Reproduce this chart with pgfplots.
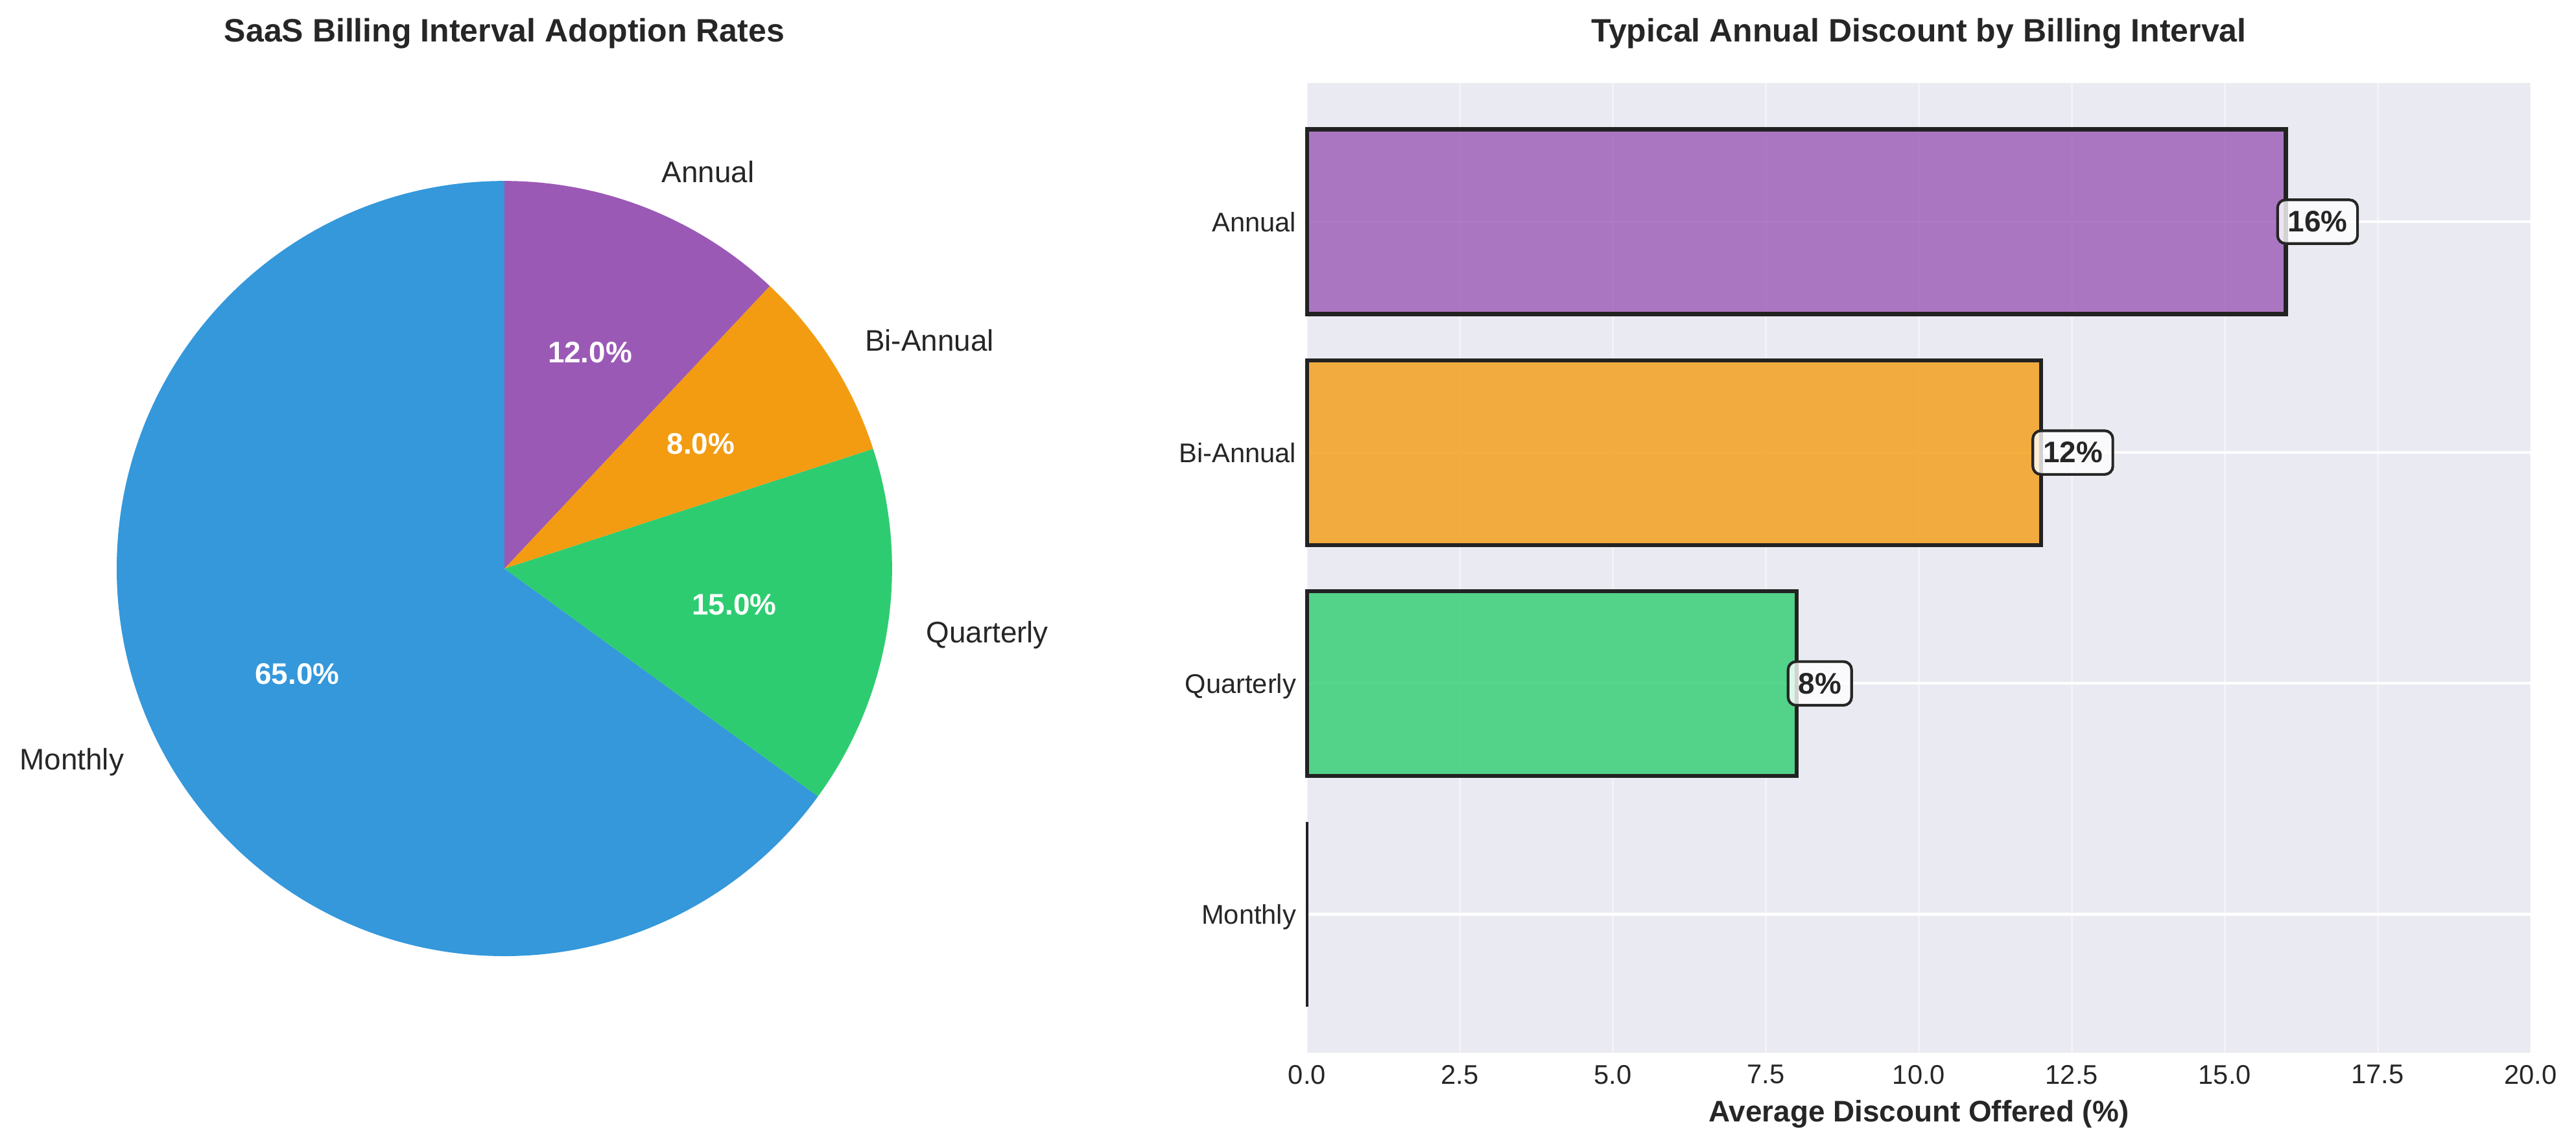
\documentclass[border=0pt]{standalone}
\usepackage{pgfplots}
\pgfplotsset{compat=1.18}
\usepackage{fontspec}
\setmainfont{Liberation Sans}
\definecolor{cMonthly}{HTML}{3498DB}
\definecolor{cQuarterly}{HTML}{2ECC71}
\definecolor{cBi}{HTML}{F39C12}
\definecolor{cAnnual}{HTML}{9B59B6}
\definecolor{bgc}{HTML}{EAEAF2}
\definecolor{tc}{HTML}{262626}
\definecolor{edgec}{HTML}{222222}
\def\R{143.5pt}
\begin{document}
\begin{tikzpicture}
\path[use as bounding box] (0,0) rectangle (953.5pt,424.8pt);
% ---------- Pie ----------
\begin{axis}[
  at={(43.2pt,70.8pt)}, anchor=south west,
  width=287pt, height=287pt, scale only axis,
  xmin=-1, xmax=1, ymin=-1, ymax=1,
  hide axis, clip=false]
\fill[cMonthly]   (axis cs:0,0) -- ++(90:\R) arc[start angle=90, delta angle={3.6*65}, radius=\R] -- cycle;
\fill[cQuarterly] (axis cs:0,0) -- ++({90+3.6*65}:\R) arc[start angle={90+3.6*65}, delta angle={3.6*15}, radius=\R] -- cycle;
\fill[cBi]        (axis cs:0,0) -- ++({90+3.6*80}:\R) arc[start angle={90+3.6*80}, delta angle={3.6*8}, radius=\R] -- cycle;
\fill[cAnnual]    (axis cs:0,0) -- ++({90+3.6*88}:\R) arc[start angle={90+3.6*88}, delta angle={3.6*12}, radius=\R] -- cycle;
% labels
\path (axis cs:0,0) ++({90+3.6*32.5}:{1.1*\R}) node[anchor=east, text=tc, font=\fontsize{11}{13}\selectfont, inner sep=0pt] {Monthly};
\path (axis cs:0,0) ++({90+3.6*72.5}:{1.1*\R}) node[anchor=west, text=tc, font=\fontsize{11}{13}\selectfont, inner sep=0pt] {Quarterly};
\path (axis cs:0,0) ++({90+3.6*84}:{1.1*\R}) node[anchor=west, text=tc, font=\fontsize{11}{13}\selectfont, inner sep=0pt] {Bi-Annual};
\path (axis cs:0,0) ++({90+3.6*94}:{1.1*\R}) node[anchor=west, text=tc, font=\fontsize{11}{13}\selectfont, inner sep=0pt] {Annual};
% percentages
\path (axis cs:0,0) ++({90+3.6*32.5}:{0.6*\R}) node[text=white, font=\fontsize{11}{13}\selectfont\bfseries, inner sep=0pt] {65.0\%};
\path (axis cs:0,0) ++({90+3.6*72.5}:{0.6*\R}) node[text=white, font=\fontsize{11}{13}\selectfont\bfseries, inner sep=0pt] {15.0\%};
\path (axis cs:0,0) ++({90+3.6*84}:{0.6*\R}) node[text=white, font=\fontsize{11}{13}\selectfont\bfseries, inner sep=0pt] {8.0\%};
\path (axis cs:0,0) ++({90+3.6*94}:{0.6*\R}) node[text=white, font=\fontsize{11}{13}\selectfont\bfseries, inner sep=0pt] {12.0\%};
\end{axis}
\node[anchor=base, text=tc, font=\fontsize{12}{14}\selectfont\bfseries] at (186.7pt,409.2pt) {SaaS Billing Interval Adoption Rates};
% ---------- Bars ----------
\begin{axis}[
  at={(483.8pt,35pt)}, anchor=south west,
  width=452.9pt, height=359pt, scale only axis,
  xmin=0, xmax=20, ymin=-0.6, ymax=3.6,
  xbar, bar width=0.8, bar shift=0pt,
  ytick={0,1,2,3}, yticklabels={Monthly,Quarterly,Bi-Annual,Annual},
  xtick={0,2.5,5,7.5,10,12.5,15,17.5,20},
  xticklabels={0.0,2.5,5.0,7.5,10.0,12.5,15.0,17.5,20.0},
  tick label style={font=\fontsize{10}{12}\selectfont, text=tc},
  xticklabel style={yshift=-1pt},
  yticklabel style={xshift=-0.5pt, text depth=0pt},
  axis background/.style={fill=bgc},
  axis line style={draw=none},
  major tick length=0pt,
  xmajorgrids, ymajorgrids,
  x grid style={white, draw opacity=0.4, line width=0.7pt},
  y grid style={white, line width=1pt},
  xlabel={Average Discount Offered (\%)},
  xlabel style={at={(axis description cs:0.5,0)}, anchor=base, yshift=-25.4pt, font=\fontsize{11}{13}\selectfont\bfseries, text=tc},
  clip=false]
\addplot[fill=cMonthly, fill opacity=0.8, draw=edgec, line width=0.8pt] coordinates {(0,0)};
\addplot[fill=cQuarterly, fill opacity=0.8, draw=edgec, line width=1.5pt] coordinates {(8,1)};
\addplot[fill=cBi, fill opacity=0.8, draw=edgec, line width=1.5pt] coordinates {(12,2)};
\addplot[fill=cAnnual, fill opacity=0.8, draw=edgec, line width=1.5pt] coordinates {(16,3)};
\foreach \v/\y in {8/1,12/2,16/3}{
  \edef\tmp{\noexpand\node[anchor=west, xshift=-3.6pt, draw=tc, line width=1pt, rounded corners=3pt, fill=white, fill opacity=0.8, text opacity=1, text=tc, inner xsep=3.8pt, inner ysep=4.2pt, font=\noexpand\fontsize{11}{13}\noexpand\selectfont\noexpand\bfseries] at (axis cs:\v,\y) {\v\noexpand\%};}
  \tmp
}
\end{axis}
\node[anchor=base, text=tc, font=\fontsize{12}{14}\selectfont\bfseries] at ({483.8pt+452.9pt/2},409.2pt) {Typical Annual Discount by Billing Interval};
\end{tikzpicture}
\end{document}
